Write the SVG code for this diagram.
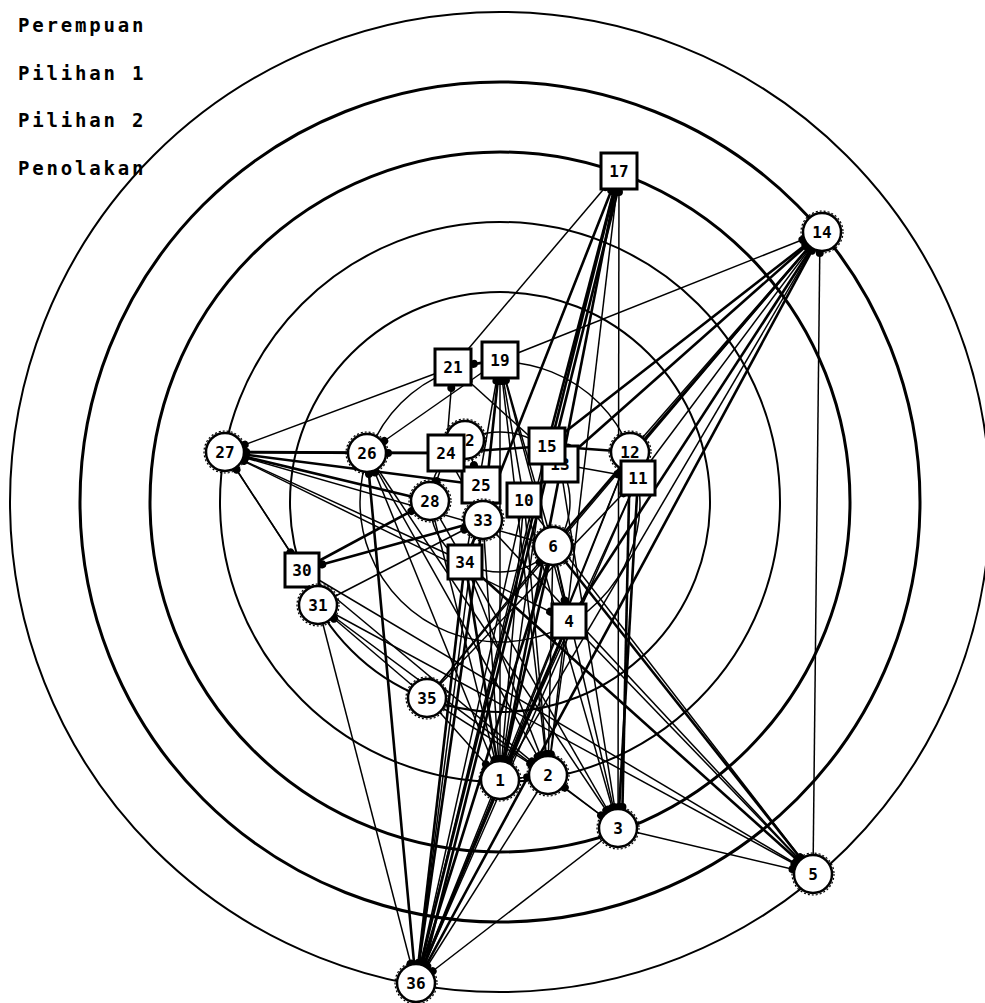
<svg xmlns="http://www.w3.org/2000/svg" width="985" height="1003" viewBox="0 0 985 1003">
<style>
.ring{fill:none;stroke:#000}
.e{stroke:#000;fill:none;marker-end:url(#d)}
.a{stroke-width:2.6}
.b{stroke-width:1.5}
.c circle.o{fill:#fff;stroke:#000;stroke-width:2.5}
.c circle.r{fill:none;stroke:#000;stroke-width:1.2;stroke-dasharray:2 2}
.s rect{fill:#fff;stroke:#000;stroke-width:3}
.lbl{font-family:"DejaVu Sans Mono","Liberation Mono",monospace;font-weight:bold;font-size:16px;text-anchor:middle;dominant-baseline:central}
.leg{font-family:"DejaVu Sans Mono","Liberation Mono",monospace;font-weight:bold;font-size:19px;letter-spacing:2.8px}
</style>
<defs>
<marker id="d" markerUnits="userSpaceOnUse" markerWidth="60" markerHeight="16" viewBox="-40 -8 60 16" refX="0" refY="0" orient="auto"><circle cx="-21" cy="0" r="4" fill="#000"/></marker>
</defs>
<rect width="985" height="1003" fill="#fff"/>
<g id="rings">
<circle class="ring" cx="500" cy="502" r="490" stroke-width="2"/>
<circle class="ring" cx="500" cy="502" r="420" stroke-width="3"/>
<circle class="ring" cx="500" cy="502" r="350" stroke-width="3"/>
<circle class="ring" cx="500" cy="502" r="280" stroke-width="2"/>
<circle class="ring" cx="500" cy="502" r="210" stroke-width="2"/>
<circle class="ring" cx="500" cy="502" r="140" stroke-width="1.5"/>
<circle class="ring" cx="500" cy="502" r="70" stroke-width="1.5"/>
</g>
<g id="legend">
<text class="leg" x="18" y="32">Perempuan</text>
<text class="leg" x="18" y="80">Pilihan 1</text>
<text class="leg" x="18" y="127">Pilihan 2</text>
<text class="leg" x="18" y="175">Penolakan</text>
</g>
<g id="connectors">
<line class="e b" x1="453" y1="367" x2="619" y2="171"/>
<line class="e a" x1="416" y1="984" x2="619" y2="171"/>
<line class="e a" x1="622" y1="174" x2="420" y2="984"/>
<line class="e a" x1="500" y1="780" x2="619" y2="171"/>
<line class="e a" x1="465" y1="562" x2="619" y2="171"/>
<line class="e a" x1="547" y1="446" x2="619" y2="171"/>
<line class="e b" x1="618" y1="828" x2="619" y2="171"/>
<line class="e b" x1="548" y1="775" x2="619" y2="171"/>
<line class="e b" x1="500" y1="360" x2="822" y2="232"/>
<line class="e a" x1="547" y1="446" x2="822" y2="232"/>
<line class="e a" x1="560" y1="464" x2="822" y2="232"/>
<line class="e b" x1="630" y1="452" x2="822" y2="232"/>
<line class="e b" x1="638" y1="478" x2="822" y2="232"/>
<line class="e a" x1="553" y1="546" x2="822" y2="232"/>
<line class="e a" x1="569" y1="621" x2="822" y2="232"/>
<line class="e b" x1="500" y1="780" x2="822" y2="232"/>
<line class="e a" x1="416" y1="984" x2="822" y2="232"/>
<line class="e b" x1="813" y1="874" x2="820" y2="232"/>
<line class="e b" x1="427" y1="698" x2="822" y2="232"/>
<line class="e b" x1="453" y1="367" x2="225" y2="452"/>
<line class="e a" x1="367" y1="453" x2="225" y2="452"/>
<line class="e a" x1="446" y1="453" x2="225" y2="452"/>
<line class="e a" x1="430" y1="501" x2="225" y2="452"/>
<line class="e a" x1="481" y1="485" x2="225" y2="452"/>
<line class="e b" x1="553" y1="546" x2="225" y2="452"/>
<line class="e b" x1="302" y1="570" x2="225" y2="452"/>
<line class="e b" x1="465" y1="562" x2="225" y2="452"/>
<line class="e a" x1="446" y1="453" x2="367" y2="453"/>
<line class="e a" x1="547" y1="446" x2="446" y2="453"/>
<line class="e a" x1="630" y1="452" x2="547" y2="446"/>
<line class="e b" x1="500" y1="360" x2="367" y2="453"/>
<line class="e a" x1="416" y1="984" x2="367" y2="453"/>
<line class="e b" x1="500" y1="780" x2="367" y2="453"/>
<line class="e a" x1="500" y1="360" x2="453" y2="367"/>
<line class="e b" x1="446" y1="453" x2="453" y2="367"/>
<line class="e b" x1="560" y1="464" x2="453" y2="367"/>
<line class="e a" x1="483" y1="520" x2="500" y2="360"/>
<line class="e b" x1="524" y1="500" x2="500" y2="360"/>
<line class="e b" x1="553" y1="546" x2="500" y2="360"/>
<line class="e b" x1="569" y1="621" x2="500" y2="360"/>
<line class="e b" x1="465" y1="562" x2="500" y2="360"/>
<line class="e b" x1="548" y1="775" x2="500" y2="360"/>
<line class="e b" x1="500" y1="780" x2="500" y2="360"/>
<line class="e a" x1="302" y1="570" x2="430" y2="501"/>
<line class="e a" x1="483" y1="520" x2="302" y2="570"/>
<line class="e b" x1="225" y1="452" x2="302" y2="570"/>
<line class="e b" x1="318" y1="605" x2="483" y2="520"/>
<line class="e b" x1="302" y1="570" x2="813" y2="874"/>
<line class="e b" x1="318" y1="605" x2="813" y2="874"/>
<line class="e b" x1="318" y1="605" x2="618" y2="828"/>
<line class="e b" x1="302" y1="570" x2="548" y2="775"/>
<line class="e a" x1="553" y1="546" x2="813" y2="874"/>
<line class="e a" x1="465" y1="562" x2="813" y2="874"/>
<line class="e b" x1="483" y1="520" x2="813" y2="874"/>
<line class="e b" x1="524" y1="500" x2="813" y2="874"/>
<line class="e b" x1="553" y1="546" x2="618" y2="828"/>
<line class="e a" x1="553" y1="546" x2="416" y2="984"/>
<line class="e a" x1="553" y1="546" x2="500" y2="780"/>
<line class="e b" x1="427" y1="698" x2="553" y2="546"/>
<line class="e b" x1="553" y1="546" x2="569" y2="621"/>
<line class="e b" x1="553" y1="546" x2="548" y2="775"/>
<line class="e b" x1="569" y1="621" x2="813" y2="874"/>
<line class="e a" x1="569" y1="621" x2="500" y2="780"/>
<line class="e a" x1="569" y1="621" x2="416" y2="984"/>
<line class="e b" x1="569" y1="621" x2="548" y2="775"/>
<line class="e a" x1="638" y1="478" x2="618" y2="828"/>
<line class="e a" x1="630" y1="452" x2="622" y2="828"/>
<line class="e b" x1="638" y1="478" x2="500" y2="780"/>
<line class="e b" x1="638" y1="478" x2="416" y2="984"/>
<line class="e b" x1="427" y1="698" x2="638" y2="478"/>
<line class="e b" x1="630" y1="452" x2="416" y2="984"/>
<line class="e b" x1="630" y1="452" x2="500" y2="780"/>
<line class="e b" x1="427" y1="698" x2="318" y2="605"/>
<line class="e b" x1="318" y1="605" x2="416" y2="984"/>
<line class="e b" x1="427" y1="698" x2="500" y2="780"/>
<line class="e b" x1="427" y1="698" x2="548" y2="775"/>
<line class="e b" x1="500" y1="780" x2="548" y2="775"/>
<line class="e b" x1="618" y1="828" x2="548" y2="775"/>
<line class="e b" x1="618" y1="828" x2="813" y2="874"/>
<line class="e b" x1="618" y1="828" x2="416" y2="984"/>
<line class="e b" x1="500" y1="780" x2="416" y2="984"/>
<line class="e b" x1="548" y1="775" x2="416" y2="984"/>
<line class="e a" x1="465" y1="562" x2="416" y2="984"/>
<line class="e a" x1="483" y1="520" x2="416" y2="984"/>
<line class="e b" x1="524" y1="500" x2="416" y2="984"/>
<line class="e b" x1="481" y1="485" x2="416" y2="984"/>
<line class="e a" x1="465" y1="562" x2="500" y2="780"/>
<line class="e b" x1="483" y1="520" x2="500" y2="780"/>
<line class="e b" x1="465" y1="562" x2="548" y2="775"/>
<line class="e b" x1="524" y1="500" x2="548" y2="775"/>
<line class="e b" x1="524" y1="500" x2="618" y2="828"/>
<line class="e b" x1="524" y1="500" x2="500" y2="780"/>
<line class="e b" x1="560" y1="464" x2="618" y2="828"/>
<line class="e b" x1="560" y1="464" x2="638" y2="478"/>
<line class="e b" x1="547" y1="446" x2="500" y2="780"/>
<line class="e b" x1="547" y1="446" x2="416" y2="984"/>
<line class="e b" x1="465" y1="440" x2="481" y2="485"/>
<line class="e b" x1="446" y1="453" x2="483" y2="520"/>
<line class="e b" x1="446" y1="453" x2="430" y2="501"/>
<line class="e b" x1="367" y1="453" x2="548" y2="775"/>
<line class="e b" x1="367" y1="453" x2="618" y2="828"/>
<line class="e b" x1="430" y1="501" x2="618" y2="828"/>
<line class="e b" x1="430" y1="501" x2="500" y2="780"/>
<line class="e b" x1="225" y1="452" x2="569" y2="621"/>
</g>
<g id="n22" class="c"><circle class="o" cx="465" cy="440" r="19"/><circle class="r" cx="465" cy="440" r="21"/><text class="lbl" x="465" y="440">22</text></g>
<g id="n13" class="s"><rect x="542" y="446" width="36" height="36"/><text class="lbl" x="560" y="464">13</text></g>
<g id="n25" class="s"><rect x="462" y="467" width="38" height="36"/><text class="lbl" x="481" y="485">25</text></g>
<g id="n17" class="s"><rect x="601" y="153" width="36" height="36"/><text class="lbl" x="619" y="171">17</text></g>
<g id="n14" class="c"><circle class="o" cx="822" cy="232" r="19"/><circle class="r" cx="822" cy="232" r="21"/><text class="lbl" x="822" y="232">14</text></g>
<g id="n21" class="s"><rect x="435" y="349" width="36" height="36"/><text class="lbl" x="453" y="367">21</text></g>
<g id="n19" class="s"><rect x="482" y="342" width="36" height="36"/><text class="lbl" x="500" y="360">19</text></g>
<g id="n24" class="s"><rect x="428" y="435" width="36" height="36"/><text class="lbl" x="446" y="453">24</text></g>
<g id="n15" class="s"><rect x="529" y="428" width="36" height="36"/><text class="lbl" x="547" y="446">15</text></g>
<g id="n10" class="s"><rect x="507" y="483" width="34" height="34"/><text class="lbl" x="524" y="500">10</text></g>
<g id="n33" class="c"><circle class="o" cx="483" cy="520" r="19"/><circle class="r" cx="483" cy="520" r="21"/><text class="lbl" x="483" y="520">33</text></g>
<g id="n28" class="c"><circle class="o" cx="430" cy="501" r="19"/><circle class="r" cx="430" cy="501" r="21"/><text class="lbl" x="430" y="501">28</text></g>
<g id="n26" class="c"><circle class="o" cx="367" cy="453" r="19"/><circle class="r" cx="367" cy="453" r="21"/><text class="lbl" x="367" y="453">26</text></g>
<g id="n27" class="c"><circle class="o" cx="225" cy="452" r="19"/><circle class="r" cx="225" cy="452" r="21"/><text class="lbl" x="225" y="452">27</text></g>
<g id="n12" class="c"><circle class="o" cx="630" cy="452" r="19"/><circle class="r" cx="630" cy="452" r="21"/><text class="lbl" x="630" y="452">12</text></g>
<g id="n11" class="s"><rect x="621" y="461" width="34" height="34"/><text class="lbl" x="638" y="478">11</text></g>
<g id="n6" class="c"><circle class="o" cx="553" cy="546" r="19"/><circle class="r" cx="553" cy="546" r="21"/><text class="lbl" x="553" y="546">6</text></g>
<g id="n4" class="s"><rect x="552" y="604" width="34" height="34"/><text class="lbl" x="569" y="621">4</text></g>
<g id="n34" class="s"><rect x="448" y="545" width="34" height="34"/><text class="lbl" x="465" y="562">34</text></g>
<g id="n30" class="s"><rect x="285" y="553" width="34" height="34"/><text class="lbl" x="302" y="570">30</text></g>
<g id="n31" class="c"><circle class="o" cx="318" cy="605" r="19"/><circle class="r" cx="318" cy="605" r="21"/><text class="lbl" x="318" y="605">31</text></g>
<g id="n35" class="c"><circle class="o" cx="427" cy="698" r="19"/><circle class="r" cx="427" cy="698" r="21"/><text class="lbl" x="427" y="698">35</text></g>
<g id="n1" class="c"><circle class="o" cx="500" cy="780" r="19"/><circle class="r" cx="500" cy="780" r="21"/><text class="lbl" x="500" y="780">1</text></g>
<g id="n2" class="c"><circle class="o" cx="548" cy="775" r="19"/><circle class="r" cx="548" cy="775" r="21"/><text class="lbl" x="548" y="775">2</text></g>
<g id="n3" class="c"><circle class="o" cx="618" cy="828" r="19"/><circle class="r" cx="618" cy="828" r="21"/><text class="lbl" x="618" y="828">3</text></g>
<g id="n5" class="c"><circle class="o" cx="813" cy="874" r="19"/><circle class="r" cx="813" cy="874" r="21"/><text class="lbl" x="813" y="874">5</text></g>
<g id="n36" class="c"><circle class="o" cx="416" cy="983" r="19"/><circle class="r" cx="416" cy="983" r="21"/><text class="lbl" x="416" y="983">36</text></g>
</svg>
